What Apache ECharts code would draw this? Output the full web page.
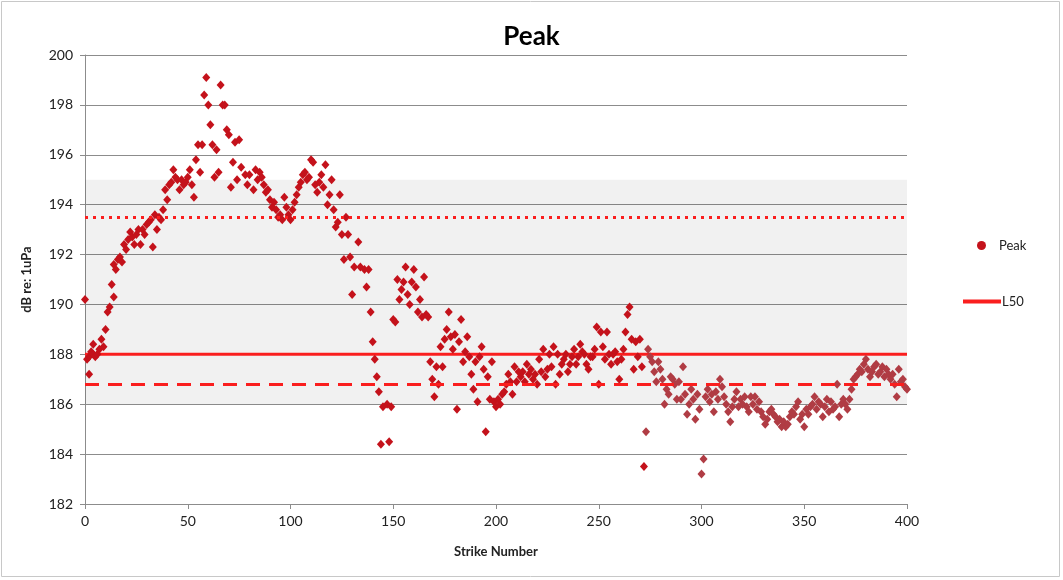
<!DOCTYPE html>
<html>
<head>
<meta charset="utf-8">
<script src="https://cdn.jsdelivr.net/npm/echarts@6/dist/echarts.min.js"></script>
<style>
  html, body { margin: 0; padding: 0; background: #fff; }
  #chart { width: 1063px; height: 580px; }
</style>
</head>
<body>
<div id="chart"></div>
<script>
// peak level per strike as [strike, dB]
const peakRise = [
  [0,190.2],[1,187.8],[2,187.9],[2,187.2],[3,188.1],[4,188.0],[4,188.4],[5,187.9],[6,188.0],[7,188.2],
  [8,188.6],[9,188.3],[10,189.0],[11,189.7],[12,189.9],[13,190.8],[14,190.3],[14,191.6],[15,191.4],[16,191.8],
  [17,191.9],[18,191.7],[19,192.4],[20,192.2],[21,192.6],[22,192.9],[23,192.7],[24,192.4],[25,192.8],[26,193.0],
  [27,192.4],[28,193.0],[29,192.8],[30,193.2],[31,193.3],[32,193.4],[33,192.3],[34,193.6],[35,193.0],[36,193.5],
  [37,193.4],[38,193.8],[39,194.6],[40,194.2],[41,194.8],[42,194.9],[43,195.4],[44,195.1],[45,195.0],[46,194.6],
  [47,195.0],[48,194.8],[49,194.9],[50,195.1],[51,195.4],[52,194.8],[53,194.3],[54,195.8],[55,196.4],[56,195.3],
  [57,196.4],[58,198.4],[59,199.1],[60,198.0],[61,197.2],[62,196.4],[63,195.1],[64,196.2],[65,195.3],[66,198.8],
  [67,198.0],[68,198.0],[69,197.0],[70,196.8],[71,194.7],[72,195.7],[73,196.5],[74,195.0]
];
const peakFall = [
  [75,196.6],[76,195.5],[78,195.2],[79,194.8],[80,195.2],[82,194.6],[83,195.4],[84,195.0],[85,195.3],[86,195.1],
  [87,194.8],[88,194.5],[89,194.6],[90,194.2],[91,193.9],[92,194.1],[93,193.8],[94,193.5],[95,193.6],[96,193.4],
  [97,194.3],[98,193.9],[99,193.6],[100,193.4],[101,193.8],[102,194.1],[103,194.4],[104,194.7],[105,194.9],[106,195.2],
  [107,195.3],[108,195.0],[109,195.1],[110,195.8],[111,195.7],[112,194.8],[113,194.5],[114,194.9],[115,195.2],[116,194.7],
  [117,195.6],[118,194.0],[119,194.4],[120,195.0],[121,193.8],[122,193.1],[123,193.3],[124,194.4],[125,192.8],[126,191.8],
  [127,193.5],[128,192.8],[129,191.9],[130,190.4],[131,191.5],[133,192.5],[134,191.5],[136,191.4],[137,190.7],[138,191.4],
  [139,189.7],[140,188.5],[141,187.8],[142,187.1],[143,186.5],[144,184.4],[145,185.9],[147,186.0],[148,184.5],[149,185.9]
];
const peakMid = [
  [150,189.4],[151,189.3],[152,191.0],[153,190.2],[154,190.6],[155,190.9],[156,191.5],[157,190.4],[158,190.0],[159,190.9],
  [160,191.4],[161,190.7],[162,189.7],[163,190.2],[164,189.5],[165,191.1],[166,189.6],[167,189.5],[168,187.7],[169,187.0],
  [170,186.3],[171,187.5],[172,186.8],[173,188.3],[174,187.5],[175,188.6],[176,189.0],[177,189.7],[178,188.7],[179,188.2],
  [180,188.8],[181,185.8],[182,188.5],[183,189.4],[184,187.7],[185,188.1],[186,188.7],[187,187.9],[188,187.2],[189,186.6],
  [190,187.7],[191,186.1],[192,187.9],[193,188.3],[194,187.4],[195,184.9],[196,187.1],[197,186.2],[198,187.7],[199,186.1],
  [200,185.9],[201,186.2],[202,186.0],[203,186.4],[204,186.5],[205,186.8],[206,187.2],[207,186.9],[208,186.4],[209,187.5],
  [210,186.9],[211,187.3],[212,187.1],[213,187.3],[214,186.9],[215,187.6],[216,187.2],[217,187.4],[218,187.0],[219,187.2],
  [220,186.8],[221,187.8],[222,187.3]
];
const peakPlateau = [
  [223,188.2],[224,187.1],[225,187.4],[226,188.0],[227,187.5],[228,188.3],[229,186.8],[230,188.0],[231,187.2],[232,187.6],
  [233,187.8],[234,188.0],[235,187.3],[236,187.6],[237,187.9],[238,188.2],[239,187.6],[240,187.9],[241,188.4],[242,188.1],
  [243,188.0],[244,187.6],[245,187.4],[246,187.9],[247,187.9],[248,188.2],[249,189.1],[250,186.8],[251,188.9],[252,188.3],
  [253,187.8],[254,188.9],[255,188.0],[256,187.6],[257,188.0],[258,188.1],[259,187.7],[260,187.0],[261,187.8],[262,188.2],
  [263,188.9],[264,189.6],[265,189.9],[266,188.6],[267,187.4],[268,188.5],[269,187.9],[270,188.6],[271,187.5],[272,183.5],
  [273,184.9],[274,188.2],[275,187.9],[276,187.7],[277,187.3],[278,186.9],[279,187.7],[280,187.4],[281,187.0],[282,186.0],
  [283,186.6],[284,186.4],[285,187.1],[286,187.0],[287,186.8],[288,186.2],[289,186.9],[290,186.2],[291,187.5],[292,186.4],
  [293,185.6],[294,186.0],[295,186.6],[296,186.2],[297,185.4],[298,186.4],[299,185.8]
];
const peakTail = [
  [300,183.2],[301,183.8],[302,186.3],[303,186.6],[304,186.1],[305,186.4],[306,185.7],[307,186.5],[308,186.2],[309,187.0],
  [310,186.7],[311,186.3],[312,186.0],[313,185.7],[314,185.3],[315,185.9],[316,186.2],[317,186.5],[318,185.9],[319,186.2],
  [320,186.0],[321,186.3],[322,185.9],[323,185.7],[324,186.3],[325,186.0],[326,186.3],[327,185.8],[328,186.1],[329,185.7],
  [330,185.5],[331,185.2],[332,185.4],[333,185.7],[334,185.8],[335,185.6],[336,185.5],[337,185.3],[338,185.4],[339,185.1],
  [340,185.3],[341,185.1],[342,185.2],[343,185.5],[344,185.7],[345,185.6],[346,185.9],[347,186.1],[348,185.4],[349,185.6],
  [350,185.1],[351,185.8],[352,185.6],[353,185.9],[354,186.0],[355,186.3],[356,185.8],[357,186.1],[358,186.0],[359,185.5],
  [360,185.9],[361,186.2],[362,185.7],[363,186.1],[364,185.8],[365,185.9],[366,186.8],[367,185.5],[368,186.0],[369,186.2],
  [370,186.0],[371,185.8],[372,186.2],[373,186.6],[374,187.0],[375,187.1],[376,187.2],[377,187.4],[378,187.3],[379,187.6],
  [380,187.8],[381,187.4],[382,187.1],[383,187.3],[384,187.5],[385,187.6],[386,187.2],[387,187.3],[388,187.5],[389,187.1],
  [390,187.4],[391,187.2],[392,187.0],[393,187.2],[394,186.8],[395,186.3],[396,187.4],[397,186.9],[398,187.0],[399,186.7],
  [400,186.6]
];

const l50 = 188.0;
const upperRef = 193.5;   // dotted
const lowerRef = 186.8;   // dashed
const band = [186.0, 195.0];
const yTicks = { min: 182, max: 200, step: 2 };
const xTicks = { min: 0, max: 400, step: 50 };

const peakAll = [].concat(peakRise, peakFall, peakMid, peakPlateau, peakTail);
const red = '#c4121b';
const brownRed = '#b03c44';
const lineRed = '#fa1e1e';

const chart = echarts.init(document.getElementById('chart'));
chart.setOption({
  animation: false,
  textStyle: { fontFamily: 'Lato, "Open Sans", sans-serif' },
  graphic: [{
    type: 'rect', silent: true, z: -10,
    shape: { x: 1.5, y: 1.5, width: 1058, height: 575 },
    style: { fill: 'none', stroke: '#c8c8c8', lineWidth: 1 }
  }],
  title: {
    text: 'Peak', left: 'center', top: 19,
    textStyle: { fontSize: 26, fontWeight: 'bold', color: '#000' }
  },
  legend: [{
    data: [{ name: 'Peak', icon: 'circle' }],
    orient: 'vertical', left: 972, top: 234,
    itemWidth: 9, itemHeight: 9,
    textStyle: { fontSize: 13, color: '#222', padding: [0, 0, 0, 8] }
  }, {
    data: [{ name: 'L50', icon: 'rect' }],
    orient: 'vertical', left: 958, top: 290,
    itemWidth: 38, itemHeight: 4,
    textStyle: { fontSize: 13, color: '#222', padding: [0, 0, 0, -4] }
  }],
  grid: { left: 85, right: 156, top: 55, bottom: 76 },
  xAxis: {
    type: 'value', min: xTicks.min, max: xTicks.max, interval: xTicks.step,
    name: 'Strike Number', nameLocation: 'middle', nameGap: 41,
    nameTextStyle: { fontSize: 13, fontWeight: 'bold', color: '#222' },
    axisLine: { show: true, lineStyle: { color: '#8c8c8c' } },
    axisTick: { show: true, length: 5, lineStyle: { color: '#8c8c8c' } },
    axisLabel: { fontSize: 14, color: '#222', margin: 10 },
    splitLine: { show: false }
  },
  yAxis: {
    type: 'value', min: yTicks.min, max: yTicks.max, interval: yTicks.step,
    name: 'dB re: 1uPa', nameLocation: 'middle', nameGap: 52,
    nameTextStyle: { fontSize: 13, fontWeight: 'bold', color: '#222' },
    axisLine: { show: true, lineStyle: { color: '#8c8c8c' } },
    axisTick: { show: true, length: 5, lineStyle: { color: '#8c8c8c' } },
    axisLabel: { fontSize: 14, color: '#222', margin: 12 },
    splitLine: { show: true, lineStyle: { color: '#8c8c8c', width: 1 } }
  },
  series: [{
    name: 'Peak', type: 'scatter', z: 4,
    symbol: 'diamond', symbolSize: [8, 9],
    itemStyle: { color: red, opacity: 1 },
    data: peakAll.map(p => p[0] >= 273
      ? { value: p, itemStyle: { color: brownRed } }
      : { value: p }),
    markArea: {
      silent: true,
      itemStyle: { color: 'rgba(0,0,0,0.055)' },
      data: [[{ yAxis: band[0] }, { yAxis: band[1] }]]
    }
  }, {
    name: 'L50', type: 'line', z: 3,
    showSymbol: false, silent: true,
    itemStyle: { color: lineRed },
    lineStyle: { color: lineRed, width: 3 },
    data: [[xTicks.min, l50], [xTicks.max, l50]],
    markLine: {
      silent: true, symbol: 'none',
      label: { show: false },
      data: [
        { yAxis: upperRef, lineStyle: { color: lineRed, width: 3, type: [3, 5] } },
        { yAxis: lowerRef, lineStyle: { color: lineRed, width: 3, type: [14, 9] } }
      ]
    }
  }]
});
</script>
</body>
</html>
